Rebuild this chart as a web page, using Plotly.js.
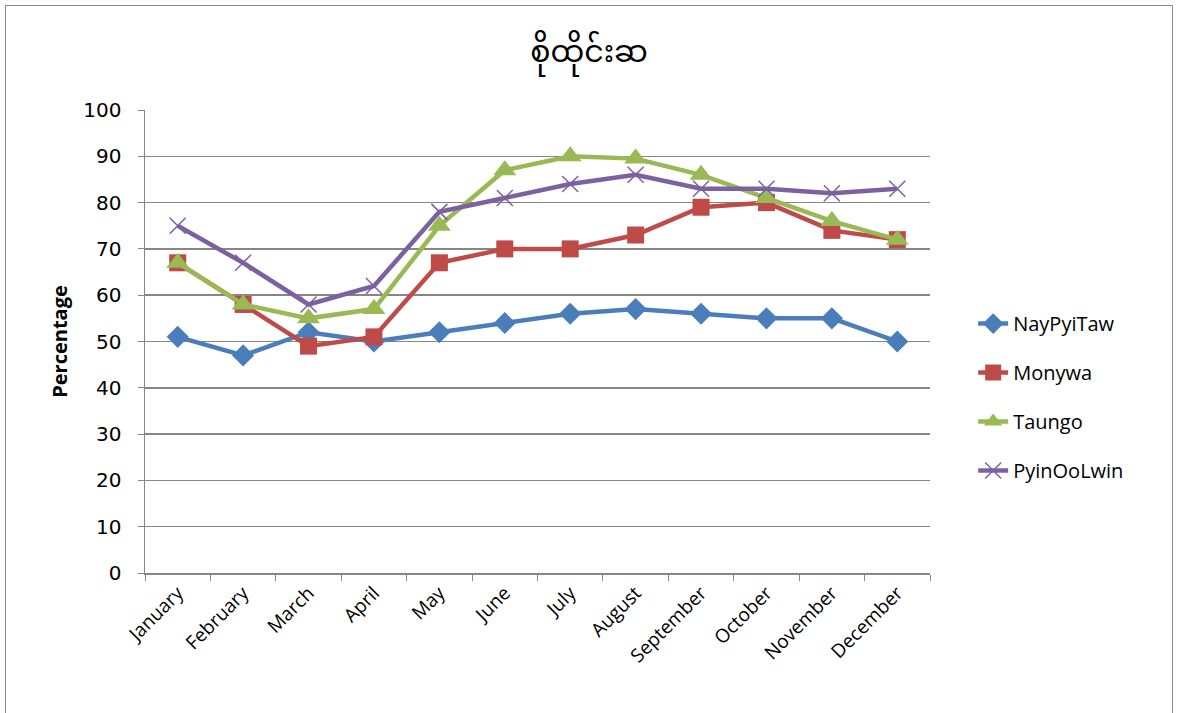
<!DOCTYPE html>
<html>
<head>
<meta charset="utf-8">
<script src="https://cdn.plot.ly/plotly-3.0.1.min.js"></script>
<style>
html,body{margin:0;padding:0;background:#fff;}
#frame{position:absolute;left:5px;top:5px;width:1168px;height:712px;border:1px solid #8c8c8c;box-sizing:border-box;}
#chart{position:absolute;left:0;top:0;width:1178px;height:713px;}
</style>
</head>
<body>
<div id="frame"></div>
<div id="chart"></div>
<script>
const months = ["January","February","March","April","May","June","July","August","September","October","November","December"];
const nayPyiTaw = [51,47,52,50,52,54,56,57,56,55,55,50];
const monywa = [67,58,49,51,67,70,70,73,79,80,74,72];
const taungo = [67,58,55,57,75,87,90,89.5,86,81,76,72];
const pyinOoLwin = [75,67,58,62,78,81,84,86,83,83,82,83];
const seriesNames = ["NayPyiTaw","Monywa","Taungo","PyinOoLwin"];
const yTicks = [0,10,20,30,40,50,60,70,80,90,100];

const colors = ["#4a7ebb","#be4b48","#98b954","#7d60a0"];
const symbols = ["diamond","square","triangle-up","x-thin"];
const sizes = [17,17,20,16];
const data = [nayPyiTaw, monywa, taungo, pyinOoLwin];

const traces = data.map((vals,i)=>({
  x: months, y: vals, name: seriesNames[i], type:"scatter", mode:"lines+markers",
  legendgroup:"g"+i,
  line:{color:colors[i], width:4.5},
  marker:{symbol:symbols[i], size:sizes[i], color:colors[i], line:{color:colors[i], width: i===3?1.5:0}}
}));

const layout = {
  width:1178, height:713,
  margin:{l:145, r:248, t:110, b:140},
  paper_bgcolor:"rgba(0,0,0,0)", plot_bgcolor:"rgba(0,0,0,0)",
  title:{text:"စိုထိုင်းဆ", x:0.5, xanchor:"center", y:0.928, yanchor:"middle",
    font:{family:"Noto Sans Myanmar, Noto Sans, DejaVu Sans", size:30, color:"#000"}},
  xaxis:{type:"category", tickangle:-45, tickfont:{family:"Open Sans, Liberation Sans", size:19, color:"#000"},
    showgrid:false, showline:true, linecolor:"#868686", linewidth:1.5, ticks:"outside", tickson:"boundaries",
    ticklen:6, tickcolor:"#868686", range:[-0.5,11.5], automargin:false},
  yaxis:{range:[0,100], tickvals:yTicks, ticktext:yTicks.map(String),
    tickfont:{family:"DejaVu Sans", size:20, color:"#000"}, ticklabelstandoff:12,
    showgrid:true, gridcolor:"#868686", gridwidth:1.5, showline:true, linecolor:"#868686", linewidth:1.5,
    ticks:"outside", ticklen:6, tickcolor:"#868686", zeroline:false,
    title:{text:"<b>Percentage</b>", font:{family:"Open Sans, Liberation Sans", size:20, color:"#000"}, standoff:10},
    automargin:false},
  legend:{x:1.055, xanchor:"left", y:0.38, yanchor:"middle", font:{family:"Open Sans, Liberation Sans", size:20, color:"#000"},
    tracegroupgap:20, bgcolor:"rgba(0,0,0,0)"},
  showlegend:true
};
Plotly.newPlot("chart", traces, layout, {displayModeBar:false, staticPlot:true});
</script>
</body>
</html>
